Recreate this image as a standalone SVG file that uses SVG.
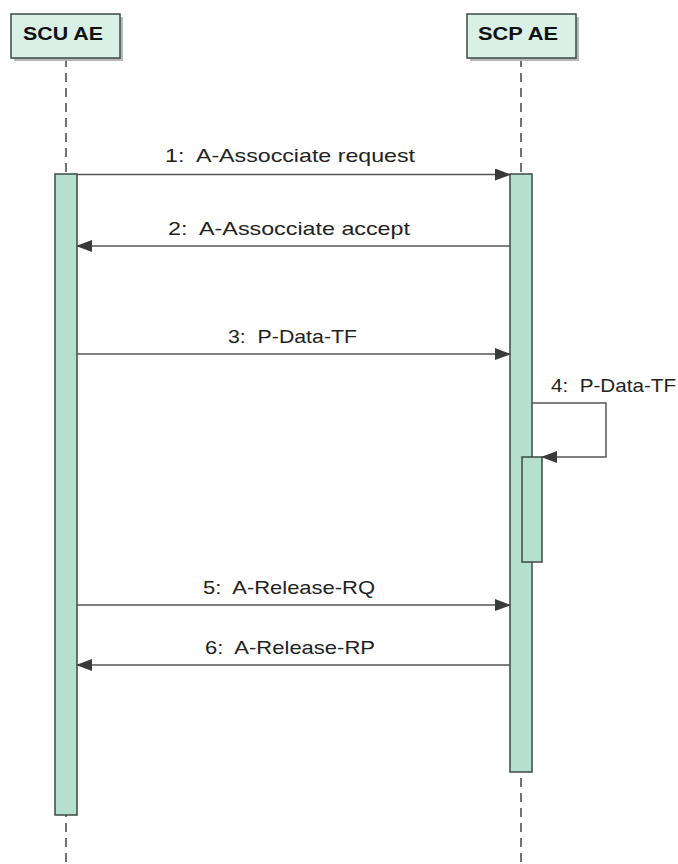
<svg xmlns="http://www.w3.org/2000/svg" width="678" height="864" viewBox="0 0 678 864">
<style>
.head{fill:#d9f0e6;stroke:#3b4a45;stroke-width:1.5}
.shadow{fill:#b8b8b8}
.life{stroke:#444;stroke-width:1.5;stroke-dasharray:9 6;fill:none}
.act{fill:#b5e0cf;stroke:#3b4a45;stroke-width:1.5}
.msg{stroke:#555;stroke-width:1.5;fill:none}
.ht{font-family:"Liberation Sans",Arial,sans-serif;font-weight:bold;font-size:19px;fill:#111}
.lt{font-family:"Liberation Sans",Arial,sans-serif;font-size:19px;fill:#222}
</style>
<defs>
<marker id="ah" markerWidth="16" markerHeight="12" refX="15" refY="6" orient="auto" markerUnits="userSpaceOnUse">
<path d="M0,0 L16,6 L0,12 Z" fill="#3a3a3a"/>
</marker>
</defs>
<rect width="678" height="864" fill="#fff"/>
<g id="lifelines">
<line class="life" x1="66" y1="58" x2="66" y2="864"/>
<line class="life" x1="521" y1="58" x2="521" y2="864"/>
</g>
<g id="scu">
<rect class="shadow" x="14" y="17" width="109" height="44"/>
<rect class="head" x="11" y="14" width="109" height="44"/>
<text class="ht" x="23" y="40" textLength="80" lengthAdjust="spacingAndGlyphs">SCU AE</text>
<rect class="act" x="55" y="174" width="22" height="641"/>
</g>
<g id="scp">
<rect class="shadow" x="470" y="17" width="109" height="44"/>
<rect class="head" x="467" y="14" width="109" height="44"/>
<text class="ht" x="478" y="40" textLength="80" lengthAdjust="spacingAndGlyphs">SCP AE</text>
<rect class="act" x="510" y="174" width="22" height="598"/>
<rect class="act" x="522" y="457" width="20" height="105"/>
</g>
<g id="connectors">
<line class="msg" x1="77" y1="174.5" x2="510" y2="174.5" marker-end="url(#ah)"/>
<text class="lt" x="165" y="162" textLength="250" lengthAdjust="spacingAndGlyphs" xml:space="preserve">1:  A-Assocciate request</text>
<line class="msg" x1="510" y1="246" x2="77" y2="246" marker-end="url(#ah)"/>
<text class="lt" x="168" y="235" textLength="242" lengthAdjust="spacingAndGlyphs" xml:space="preserve">2:  A-Assocciate accept</text>
<line class="msg" x1="77" y1="354" x2="510" y2="354" marker-end="url(#ah)"/>
<text class="lt" x="228" y="343" textLength="129" lengthAdjust="spacingAndGlyphs" xml:space="preserve">3:  P-Data-TF</text>
<polyline class="msg" points="532,403 606,403 606,457 542,457" marker-end="url(#ah)"/>
<text class="lt" x="551" y="392" textLength="125" lengthAdjust="spacingAndGlyphs" xml:space="preserve">4:  P-Data-TF</text>
<line class="msg" x1="77" y1="605" x2="510" y2="605" marker-end="url(#ah)"/>
<text class="lt" x="203" y="594" textLength="172" lengthAdjust="spacingAndGlyphs" xml:space="preserve">5:  A-Release-RQ</text>
<line class="msg" x1="510" y1="665" x2="77" y2="665" marker-end="url(#ah)"/>
<text class="lt" x="205" y="654" textLength="170" lengthAdjust="spacingAndGlyphs" xml:space="preserve">6:  A-Release-RP</text>
</g>
</svg>
